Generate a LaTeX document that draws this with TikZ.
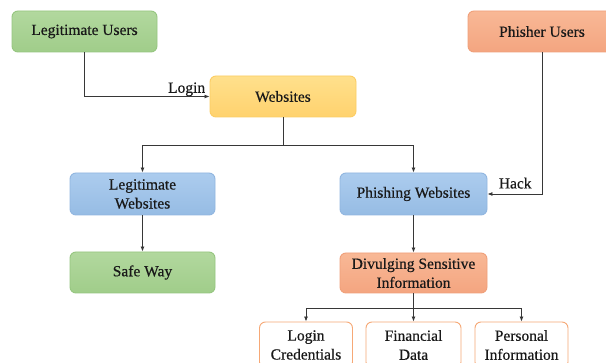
\documentclass[tikz,border=0pt]{standalone}
\usepackage{fontspec}
\setmainfont{Liberation Serif}
\newfontfamily\boxfont[FakeBold=0.5]{Liberation Serif}
\usetikzlibrary{arrows.meta}

\definecolor{grnTop}{RGB}{178,216,158}
\definecolor{grnBot}{RGB}{160,205,138}
\definecolor{grnLine}{RGB}{150,198,128}
\definecolor{ylwTop}{RGB}{255,224,140}
\definecolor{ylwBot}{RGB}{255,210,110}
\definecolor{ylwLine}{RGB}{252,205,100}
\definecolor{salTop}{RGB}{248,184,150}
\definecolor{salBot}{RGB}{244,165,128}
\definecolor{salLine}{RGB}{240,160,122}
\definecolor{bluTop}{RGB}{172,204,238}
\definecolor{bluBot}{RGB}{150,188,228}
\definecolor{bluLine}{RGB}{145,182,224}
\definecolor{orgLine}{RGB}{246,168,118}
\definecolor{connector}{RGB}{55,55,55}
\definecolor{txt}{RGB}{25,25,25}

\tikzset{
  box/.style={rectangle, rounded corners=6pt, line width=0.9pt, align=center,
    minimum height=41pt, inner sep=2pt, text=txt,
    font=\boxfont\fontsize{15.5}{19}\selectfont},
  greenbox/.style={box, draw=grnLine, top color=grnTop, bottom color=grnBot},
  yellowbox/.style={box, draw=ylwLine, top color=ylwTop, bottom color=ylwBot},
  salmonbox/.style={box, draw=salLine, top color=salTop, bottom color=salBot},
  bluebox/.style={box, draw=bluLine, top color=bluTop, bottom color=bluBot},
  leafbox/.style={box, draw=orgLine, fill=white, minimum height=46pt},
  arr/.style={draw=connector, line width=0.8pt, -{Latex[length=5pt,width=4pt]}},
  link/.style={draw=connector, line width=0.8pt},
  lbl/.style={text=txt, inner sep=1pt, font=\boxfont\fontsize{15.5}{19}\selectfont}
}

\begin{document}
\begin{tikzpicture}[x=1pt,y=-1pt]
  \useasboundingbox (0,0) rectangle (606,363);
  \fill[white] (0,0) rectangle (606,363);
  \clip (0,0) rectangle (606,363);

  % top row
  \node[greenbox, minimum width=145pt] (lu) at (84.5,31.5) {Legitimate Users};
  \node[salmonbox, minimum width=148pt] (pu) at (542,31.5) {Phisher Users};
  \node[yellowbox, minimum width=146pt] (web) at (283,96.5) {Websites};

  % middle rows
  \node[bluebox, minimum width=145pt, minimum height=42pt] (lw) at (142.5,194) {Legitimate\\Websites};
  \node[bluebox, minimum width=147pt, minimum height=42pt] (pw) at (413.5,194) {Phishing Websites};
  \node[greenbox, minimum width=145pt] (sw) at (142.5,272.5) {Safe Way};
  \node[salmonbox, minimum width=147pt, minimum height=40pt] (dsi) at (413.5,273) {Divulging Sensitive\\Information};

  % leaves (run past the lower edge)
  \node[leafbox, minimum width=93pt] (lc) at (306,345) {Login\\Credentials};
  \node[leafbox, minimum width=95pt] (fd) at (413.5,345) {Financial\\Data};
  \node[leafbox, minimum width=93pt] (pi) at (521.5,345) {Personal\\Information};

  % connectors
  \draw[arr] (lu.south) |- (web.west)
    node[lbl, anchor=south east, pos=1, xshift=-3pt, yshift=-1pt] {Login};
  \draw[arr] (pu.south) |- (pw.east)
    node[lbl, anchor=south west, pos=1, xshift=10pt, yshift=4pt] {Hack};

  \coordinate (split1) at (283,145);
  \draw[link] (web.south) -- (split1);
  \draw[arr] (split1) -| (lw.north);
  \draw[arr] (split1) -| (pw.north);

  \draw[arr] (lw.south) -- (sw.north);
  \draw[arr] (pw.south) -- (dsi.north);

  \coordinate (split2) at (413.5,308);
  \draw[link] (dsi.south) -- (split2);
  \draw[arr] (split2) -| (lc.north);
  \draw[arr] (split2) -- (fd.north);
  \draw[arr] (split2) -| (pi.north);
\end{tikzpicture}
\end{document}
